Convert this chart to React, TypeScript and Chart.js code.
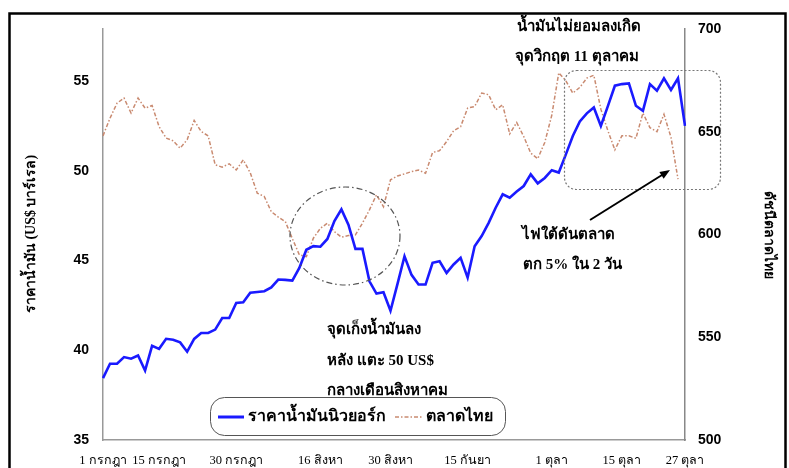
import React, { useEffect, useRef } from "react";
import { Chart, registerables } from "chart.js";

Chart.register(...registerables);

// ---- Data ----
const tickLabels = ["1 กรกฎา", "15 กรกฎา", "30 กรกฎา", "16 สิงหา", "30 สิงหา", "15 กันยา", "1 ตุลา", "15 ตุลา", "27 ตุลา"];
const tickPositions = [0, 8, 19, 31, 41, 52, 64, 74, 83];

const oilNY = [
  38.45, 39.25, 39.25, 39.62, 39.53, 39.71, 38.87, 40.25, 40.08, 40.64,
  40.59, 40.44, 39.92, 40.63, 40.96, 40.96, 41.15, 41.8, 41.8, 42.64,
  42.67, 43.2, 43.25, 43.29, 43.5, 43.94, 43.92, 43.88, 44.59, 45.6,
  45.8, 45.77, 46.2, 47.2, 47.85, 47.0, 45.65, 45.65, 43.84, 43.16,
  43.23, 42.2, 43.7, 45.24, 44.2, 43.66, 43.66, 44.87, 44.96, 44.31,
  44.78, 45.15, 44.05, 45.8, 46.36, 47.1, 47.94, 48.69, 48.5, 48.84,
  49.15, 49.8, 49.3, 49.6, 50.03, 49.9, 50.9, 51.94, 52.75, 53.2,
  53.53, 52.5, 53.6, 54.74, 54.83, 54.87, 53.62, 53.34, 54.83, 54.46,
  55.15, 54.5, 55.15, 52.5,
];

const setThai = [
  648.0, 656.6, 663.9, 666.4, 659.1, 666.4, 661.5, 662.8, 652.5, 646.9,
  645.6, 642.0, 646.1, 655.5, 650.1, 648.0, 633.9, 632.8, 634.4, 631.4,
  636.3, 630.0, 620.1, 618.5, 611.1, 608.5, 606.3, 598.0, 590.1, 589.2,
  598.2, 603.0, 605.5, 601.4, 598.7, 599.5, 599.8, 605.5, 612.0, 619.3,
  613.5, 626.6, 628.5, 629.5, 630.6, 631.4, 629.8, 639.9, 640.8, 645.2,
  650.5, 652.5, 661.5, 662.3, 668.8, 668.0, 660.7, 663.1, 649.0, 654.5,
  647.7, 639.6, 636.9, 644.8, 658.0, 678.7, 674.9, 668.8, 671.6, 676.1,
  677.5, 661.0, 650.5, 641.2, 648.0, 648.0, 646.8, 659.1, 652.0, 650.0,
  658.5, 647.3, 627.0, null,
];

const leftTicks = [35, 40, 45, 50, 55];
const rightTicks = [500, 550, 600, 650, 700];

const seriesNames = ["ราคาน้ำมันนิวยอร์ก", "ตลาดไทย"];
const leftTitle = "ราคาน้ำมัน (US$ บาร์เรล)";
const rightTitle = "ดัชนีตลาดไทย";
const noteTop = ["น้ำมันไม่ยอมลงเกิด", "จุดวิกฤต 11 ตุลาคม"];
const noteSouth = ["ไฟใต้ดันตลาด", "ตก 5% ใน 2 วัน"];
const noteOil = ["จุดเก็งน้ำมันลง", "หลัง แตะ 50 US$", "กลางเดือนสิงหาคม"];

const categories = oilNY.map((_, i) => {
  const k = tickPositions.indexOf(i);
  return k >= 0 ? tickLabels[k] : "";
});

const BLUE = "#1a1aff";
const RED = "#c98a70";
const THAI_FONT = '"Liberation Serif", "Noto Sans", serif';
const NUM_FONT = '"Liberation Sans", Arial, sans-serif';

function roundRect(ctx: CanvasRenderingContext2D, x: number, y: number, w: number, h: number, r: number) {
  ctx.beginPath();
  ctx.moveTo(x + r, y);
  ctx.lineTo(x + w - r, y);
  ctx.arcTo(x + w, y, x + w, y + r, r);
  ctx.lineTo(x + w, y + h - r);
  ctx.arcTo(x + w, y + h, x + w - r, y + h, r);
  ctx.lineTo(x + r, y + h);
  ctx.arcTo(x, y + h, x, y + h - r, r);
  ctx.lineTo(x, y + r);
  ctx.arcTo(x, y, x + r, y, r);
  ctx.closePath();
}

const decorPlugin = {
  id: "decor",
  afterDraw(chart: any) {
    const ctx: CanvasRenderingContext2D = chart.ctx;
    ctx.save();

    // outer frame
    ctx.setLineDash([]);
    ctx.strokeStyle = "#000";
    ctx.lineWidth = 2.5;
    ctx.strokeRect(9.5, 13.5, 776, 470);

    // dash-dot ellipse
    ctx.strokeStyle = "#555";
    ctx.lineWidth = 1.2;
    ctx.setLineDash([6, 3, 1.5, 3]);
    ctx.beginPath();
    ctx.ellipse(345, 236, 55, 49, 0, 0, Math.PI * 2);
    ctx.stroke();

    // dotted rounded rect
    ctx.strokeStyle = "#777";
    ctx.setLineDash([2, 2]);
    roundRect(ctx, 564.5, 70.5, 156, 119, 12);
    ctx.stroke();

    // arrow
    ctx.setLineDash([]);
    ctx.strokeStyle = "#000";
    ctx.fillStyle = "#000";
    ctx.lineWidth = 2;
    const x1 = 590, y1 = 220, x2 = 670, y2 = 170;
    const ang = Math.atan2(y2 - y1, x2 - x1);
    ctx.beginPath();
    ctx.moveTo(x1, y1);
    ctx.lineTo(x2 - 8 * Math.cos(ang), y2 - 8 * Math.sin(ang));
    ctx.stroke();
    ctx.beginPath();
    ctx.moveTo(x2, y2);
    ctx.lineTo(x2 - 10 * Math.cos(ang) + 4 * Math.sin(ang), y2 - 10 * Math.sin(ang) - 4 * Math.cos(ang));
    ctx.lineTo(x2 - 10 * Math.cos(ang) - 4 * Math.sin(ang), y2 - 10 * Math.sin(ang) + 4 * Math.cos(ang));
    ctx.closePath();
    ctx.fill();

    // annotation texts
    ctx.fillStyle = "#000";
    ctx.textBaseline = "middle";
    ctx.textAlign = "left";
    ctx.font = `bold 15px ${THAI_FONT}`;
    ctx.fillText(noteTop[0], 517, 27);
    ctx.fillText(noteTop[1], 515, 57);
    ctx.fillText(noteSouth[0], 522, 235);
    ctx.fillText(noteSouth[1], 523, 265);
    ctx.fillText(noteOil[0], 327, 330);
    ctx.fillText(noteOil[1], 327, 361);
    ctx.fillText(noteOil[2], 327, 391);

    // axis titles
    ctx.font = `bold 14px ${THAI_FONT}`;
    ctx.textAlign = "center";
    ctx.save();
    ctx.translate(31, 234);
    ctx.rotate(-Math.PI / 2);
    ctx.fillText(leftTitle, 0, 0);
    ctx.restore();
    ctx.save();
    ctx.translate(769, 235);
    ctx.rotate(Math.PI / 2);
    ctx.fillText(rightTitle, 0, 0);
    ctx.restore();

    // legend
    ctx.fillStyle = "#fff";
    ctx.strokeStyle = "#555";
    ctx.lineWidth = 1;
    roundRect(ctx, 210.5, 397.5, 295, 38, 14);
    ctx.fill();
    ctx.stroke();
    ctx.lineWidth = 3;
    ctx.strokeStyle = BLUE;
    ctx.beginPath();
    ctx.moveTo(218, 417);
    ctx.lineTo(244, 417);
    ctx.stroke();
    ctx.lineWidth = 1.5;
    ctx.strokeStyle = RED;
    ctx.setLineDash([4, 2, 1.5, 2]);
    ctx.beginPath();
    ctx.moveTo(395, 417);
    ctx.lineTo(422, 417);
    ctx.stroke();
    ctx.setLineDash([]);
    ctx.fillStyle = "#000";
    ctx.textAlign = "left";
    ctx.font = `bold 16px ${THAI_FONT}`;
    ctx.fillText(seriesNames[0], 248, 417);
    ctx.fillText(seriesNames[1], 426, 417);

    ctx.restore();
  },
};

export default function App() {
  const ref = useRef<HTMLCanvasElement>(null);
  useEffect(() => {
    document.body.style.margin = "0";
    const chart = new Chart(ref.current!, {
      type: "line",
      data: {
        labels: categories,
        datasets: [
          {
            label: seriesNames[0],
            data: oilNY,
            yAxisID: "y",
            borderColor: BLUE,
            borderWidth: 2.6,
            pointRadius: 0,
            tension: 0,
          },
          {
            label: seriesNames[1],
            data: setThai,
            yAxisID: "y1",
            borderColor: RED,
            borderWidth: 1.5,
            borderDash: [4, 2, 1.5, 2],
            pointRadius: 0,
            tension: 0,
            spanGaps: false,
          },
        ],
      },
      options: {
        responsive: false,
        animation: false,
        layout: { padding: { top: 29, left: 0, right: 0, bottom: 0 } },
        plugins: { legend: { display: false }, tooltip: { enabled: false } },
        scales: {
          x: {
            type: "category",
            offset: false,
            grid: { display: false, drawTicks: false },
            border: { display: true, color: "#999", width: 1.5 },
            ticks: {
              autoSkip: false,
              maxRotation: 0,
              minRotation: 0,
              padding: 13,
              color: "#000",
              font: { family: THAI_FONT, size: 12.5, weight: "normal" },
            },
            afterFit: (s: any) => { s.height = 28; },
          },
          y: {
            position: "left",
            min: 35,
            max: 57.9,
            grid: { display: false, drawTicks: false },
            border: { display: true, color: "#999", width: 1.5 },
            afterBuildTicks: (s: any) => { s.ticks = leftTicks.map((v) => ({ value: v })); },
            ticks: {
              padding: 14,
              color: "#000",
              font: { family: NUM_FONT, size: 14, weight: "bold" },
            },
            afterFit: (s: any) => { s.width = 103; },
          },
          y1: {
            position: "right",
            min: 500,
            max: 700,
            grid: { display: false, drawTicks: false },
            border: { display: true, color: "#888", width: 1.5 },
            afterBuildTicks: (s: any) => { s.ticks = rightTicks.map((v) => ({ value: v })); },
            ticks: {
              padding: 13,
              color: "#000",
              font: { family: NUM_FONT, size: 14, weight: "bold" },
            },
            afterFit: (s: any) => { s.width = 104; },
          },
        },
      },
      plugins: [decorPlugin],
    });
    return () => chart.destroy();
  }, []);
  return (
    <div style={{ position: "absolute", left: 0, top: 0, width: 789, height: 468, background: "#fff" }}>
      <canvas ref={ref} width={789} height={468} style={{ display: "block" }} />
    </div>
  );
}
